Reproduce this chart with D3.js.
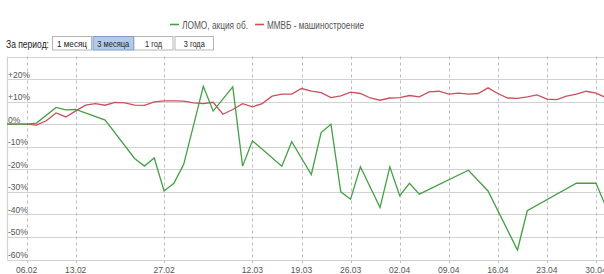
<!DOCTYPE html>
<html>
<head>
<meta charset="utf-8">
<script src="https://cdn.jsdelivr.net/npm/d3@7"></script>
<style>
body { margin: 0; background: #fff; }
svg { display: block; font-family: "Liberation Sans", Arial, sans-serif; }
</style>
</head>
<body>
<div id="chart"></div>
<script>

// trading day index -> tick labels
var tickDays = [2, 7, 16, 25, 30, 35, 40, 45, 50, 55, 60];
var tickLabels = ["06.02", "13.02", "27.02", "12.03", "19.03", "26.03", "02.04", "09.04", "16.04", "23.04", "30.04"];
var yTicks = [-60, -50, -40, -30, -20, -10, 0, 10, 20, 30];
var yLabels = ["-60%", "-50%", "-40%", "-30%", "-20%", "-10%", "0%", "+10%", "+20%", null];

var seriesNames = ["ЛОМО, акция об.", "ММВБ - машиностроение"];
var seriesColors = ["#45a045", "#cc4f5c"];

// % change, null = no trade that day
var lomo = [0, 0, 0, 0.5, null, 7.4, 6.3, 6.5, null, null,
  1.8, null, null, -15.2, -18.6, -15, -29.6, -26.2, -17.8, null,
  16.8, 5.8, null, 16.5, -18.6, -7.4, null, null, -18.6, -7.8,
  null, -22.3, -3.7, 0, -30, -33.3, -18.9, null, -37, -18.9,
  -31.7, -26.2, -31, null, null, null, null, -20.4, null, -29.6,
  null, null, -55.8, -38.4, null, null, null, null, -26.2, null,
  -26.2, -36.5];
var micex = [0, 0, 0, -0.4, 1.5, 5, 3.2, 5.9, 8.4, 9.1,
  8.4, 9.7, 9.4, 8.4, 8.3, 9.9, 10.3, 10.3, 10.2, 9.4,
  9.1, 9.7, 4.4, 6.5, 9.1, 7.7, 9.1, 12.4, 13.3, 13.3,
  15.8, 14.6, 14, 11.8, 12.5, 14.2, 13.6, 11.6, 10.6, 11.6,
  11.8, 12.7, 12.1, 14.3, 14.6, 13.3, 13.8, 13.3, 13.6, 16.1,
  13.6, 11.6, 11.4, 12.1, 13, 11.1, 10.9, 12.4, 13.3, 14.6,
  13.8, 11.8];

var periods = ["1 месяц", "3 месяца", "1 год", "3 года"];
var activePeriod = 1;

var width = 604,
    height = 274;

var svg = d3.select("#chart").append("svg")
  .attr("width", width)
  .attr("height", height);

var x = d3.scaleLinear().domain([0, 60]).range([7, 596]);
var y = d3.scaleLinear().domain([-60, 30]).range([259.5, 56.5]);

// legend (text squeezed like the original screenshot)
var legend = svg.append("g").attr("class", "legend");
var legX = [170, 255];
var legW = [66, 97];
seriesNames.forEach(function(name, i){
  legend.append("line")
    .attr("x1", legX[i]).attr("x2", legX[i] + 9)
    .attr("y1", 24.5).attr("y2", 24.5)
    .attr("stroke", seriesColors[i])
    .attr("stroke-width", 1.6);
  legend.append("text")
    .attr("x", legX[i] + 12)
    .attr("y", 28.5)
    .attr("font-size", 10)
    .attr("fill", "#555")
    .attr("textLength", legW[i])
    .attr("lengthAdjust", "spacingAndGlyphs")
    .text(name);
});

// period buttons
svg.append("text")
  .attr("x", 6).attr("y", 47.5)
  .attr("font-size", 10)
  .attr("fill", "#222")
  .attr("textLength", 43)
  .attr("lengthAdjust", "spacingAndGlyphs")
  .text("За период:");

var btnX = [52.5, 93, 134, 175];
var btnW = [39, 40.5, 39, 38.5];
var btnTextW = [30, 32, 17, 21];
var btn = svg.selectAll("g.btn")
  .data(periods)
  .enter().append("g")
  .attr("class", "btn")
  .attr("transform", function(d, i){ return "translate(" + btnX[i] + ",36.5)"; });

btn.append("rect")
  .attr("width", function(d, i){ return btnW[i]; })
  .attr("height", 13.5)
  .attr("fill", function(d, i){ return i == activePeriod ? "#b3cbea" : "#fff"; })
  .attr("stroke", function(d, i){ return i == activePeriod ? "#7d9cc4" : "#b5b5b5"; })
  .attr("stroke-width", 1);

btn.append("text")
  .attr("x", function(d, i){ return (btnW[i] - btnTextW[i]) / 2; })
  .attr("y", 10.5)
  .attr("font-size", 9.5)
  .attr("fill", "#222")
  .attr("textLength", function(d, i){ return btnTextW[i]; })
  .attr("lengthAdjust", "spacingAndGlyphs")
  .text(function(d){ return d; });

// grid
var grid = svg.append("g").attr("class", "grid");

grid.selectAll("line.h")
  .data(yTicks)
  .enter().append("line")
  .attr("class", "h")
  .attr("x1", 7).attr("x2", width)
  .attr("y1", function(d){ return Math.round(y(d)) + 0.5; })
  .attr("y2", function(d){ return Math.round(y(d)) + 0.5; })
  .attr("stroke", "#d2d2d2")
  .attr("stroke-width", 1.2);

grid.selectAll("line.v")
  .data(tickDays)
  .enter().append("line")
  .attr("class", "v")
  .attr("x1", function(d){ return Math.round(x(d)) + 0.5; })
  .attr("x2", function(d){ return Math.round(x(d)) + 0.5; })
  .attr("y1", y(30)).attr("y2", 263)
  .attr("stroke", "#bdbdbd")
  .attr("stroke-dasharray", "3,3");

grid.append("line")
  .attr("x1", 7.5).attr("x2", 7.5)
  .attr("y1", y(30)).attr("y2", y(-60))
  .attr("stroke", "#d2d2d2")
  .attr("stroke-width", 1.2);

// y labels
svg.selectAll("text.ylab")
  .data(yTicks.filter(function(d, i){ return yLabels[i] != null; }))
  .enter().append("text")
  .attr("class", "ylab")
  .attr("x", 8)
  .attr("y", function(d){ return y(d) - 1.5; })
  .attr("font-size", 8.5)
  .attr("fill", "#555")
  .text(function(d){ return yLabels[yTicks.indexOf(d)]; });

// x labels
svg.selectAll("text.xlab")
  .data(tickDays)
  .enter().append("text")
  .attr("class", "xlab")
  .attr("x", function(d){ return x(d); })
  .attr("y", 272.5)
  .attr("text-anchor", "middle")
  .attr("font-size", 8.5)
  .attr("fill", "#555")
  .text(function(d, i){ return tickLabels[i]; });

// lines
var line = d3.line()
  .x(function(d){ return x(d[0]); })
  .y(function(d){ return y(d[1]); });

function toPoints(values){
  return values.map(function(v, i){ return [i, v]; })
    .filter(function(p){ return p[1] != null; });
}

svg.append("path")
  .datum(toPoints(micex))
  .attr("fill", "none")
  .attr("stroke", seriesColors[1])
  .attr("stroke-width", 1.3)
  .attr("d", line);

svg.append("path")
  .datum(toPoints(lomo))
  .attr("fill", "none")
  .attr("stroke", seriesColors[0])
  .attr("stroke-width", 1.3)
  .attr("d", line);

</script>
</body>
</html>
